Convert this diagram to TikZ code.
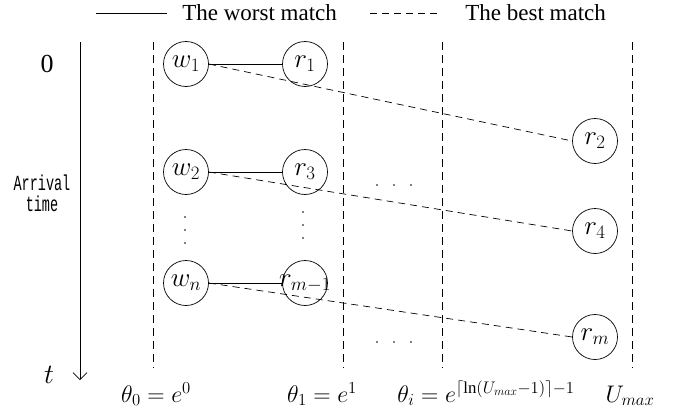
\documentclass[tikz,border=0pt]{standalone}
\usepackage{fix-cm}
\usepackage{amsmath}
\usepackage{graphicx}
\usepackage{fontspec}
\setmainfont{Liberation Serif}
\newfontfamily\monofont{Liberation Mono}
\usetikzlibrary{arrows.meta}
\begin{document}
\begin{tikzpicture}[x=1pt,y=-1pt,line width=0.7pt,font=\fontsize{24}{28}\selectfont]
	\useasboundingbox (0,0)rectangle(679,415);
	\tikzset{nut/.style={draw,circle,minimum size=45pt,inner sep=0pt,font=\fontsize{27}{30}\selectfont},
	netdut/.style={dash pattern=on 7pt off 5pt},
	cot/.style={dash pattern=on 8pt off 5pt},
	chu/.style={inner sep=0pt,anchor=base west,font=\fontsize{23}{26}\selectfont}}
	\draw(96,13)--(167,13);
	\path(182,20)node[chu]{The worst match};
	\draw[netdut](370,13)--(440,13);
	\path(465,20)node[chu]{The best match};
	\draw[-{Straight Barb[length=7pt,width=14pt]}](80,42)--(80,380);
	\path(47,72)node[inner sep=0pt,anchor=base,font=\fontsize{26}{28}\selectfont]{0}
	(49,383)node[inner sep=0pt,anchor=base,font=\fontsize{28}{30}\selectfont]{$t$}
	(42,196)node[inner sep=0pt,font=\monofont\fontsize{13.5}{12}\selectfont]{\scalebox{1}[1.6]{\begin{tabular}{@{}c@{}}Arrival\\ time\end{tabular}}};
	\foreach \x in {153,343,442,632}
	\draw[cot](\x,42)--(\x,368);
	\foreach \ten/\x/\y/\nhan in {w1/186/64/w_1,w2/186/172/w_2,wn/186/283/w_n,r1/305/64/r_1,r3/305/172/r_3,rm1/305/283/{r_{m-1}},r2/595/141/r_2,r4/595/231/r_4,rm/595/337/r_m}
	\node[nut](\ten)at(\x,\y){\makebox[0pt]{$\nhan$}};
	\draw(w1.east)--(r1.west) (w2.east)--(r3.west) (wn.east)--(rm1.west);
	\draw[netdut](w1.east)--(r2.west) (w2.east)--(r4.west) (wn.east)--(rm.west);
	\foreach \y in {217,230,243}{
	\fill(185,\y)circle(0.9pt);
	\fill(303,\y-5)circle(0.9pt);
	}
	\foreach \x in {377,394,411}{
	\fill(\x,185)circle(0.9pt);
	\fill(\x,342)circle(0.9pt);
	}
	\path(156,402)node[inner sep=0pt,anchor=base]{$\theta_0=e^0$}
	(322,402)node[inner sep=0pt,anchor=base]{$\theta_1=e^1$}
	(486,402)node[inner sep=0pt,anchor=base]{$\theta_i=e^{\lceil\ln(U_{max}-1)\rceil-1}$}
	(630,402)node[inner sep=0pt,anchor=base]{$U_{max}$};
\end{tikzpicture}
\end{document}
